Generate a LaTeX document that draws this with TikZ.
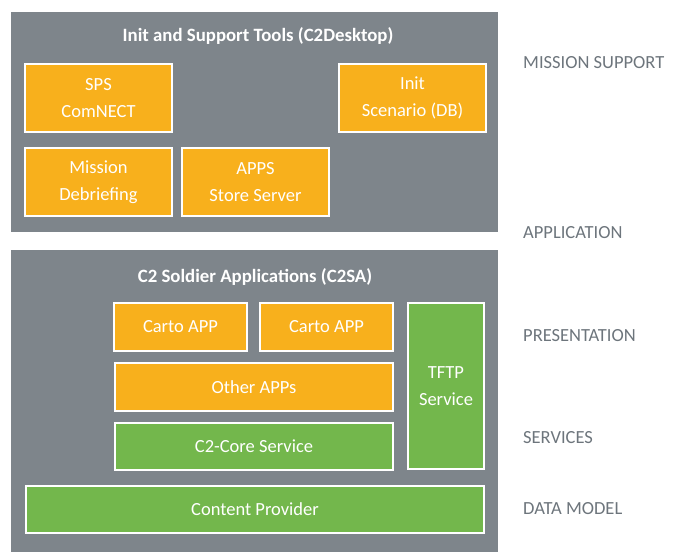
\documentclass[tikz,border=0pt]{standalone}
\usepackage{fontspec}
\setmainfont{Carlito}
\usetikzlibrary{positioning}
\definecolor{panelgray}{HTML}{7E858B}
\definecolor{apporange}{HTML}{F8B01C}
\definecolor{svcgreen}{HTML}{73B74C}
\definecolor{layergray}{HTML}{6D757C}
\begin{document}
\begin{tikzpicture}[
                x=1pt, y=-1pt,
                panel/.style={fill=panelgray, draw=none},
                title/.style={font=\fontsize{18.8}{22}\selectfont\bfseries, text=white},
                box/.style={draw=white, line width=2pt, inner sep=0pt, align=center, text=white, font=\fontsize{18.5}{27}\selectfont},
                appbox/.style={box, fill=apporange},
                svcbox/.style={box, fill=svcgreen},
                layer/.style={anchor=west, inner sep=0pt, text=layergray, font=\fontsize{18.5}{22}\selectfont}
            ]
                \useasboundingbox (0,0) rectangle (686,552);
                % panels
                \fill[panel] (11,12) rectangle (498,232);
                \fill[panel] (11,250) rectangle (498,552);
                \node[title] (desktop) at (258,36) {Init and Support Tools (C2Desktop)};
                \node[title] (c2sa) at (255,277) {C2 Soldier Applications (C2SA)};

                \node[appbox, minimum width=147pt, minimum height=68pt] (sps) at (98.5,98) {SPS\\ComNECT};
                \node[appbox, minimum width=147pt, minimum height=68pt] (init) at (412.5,98) {Init\\Scenario (DB)};
                \node[appbox, minimum width=147pt, minimum height=68pt] (mission) at (98.5,182) {Mission\\Debriefing};
                \node[appbox, minimum width=147pt, minimum height=68pt] (apps) at (255.5,182) {APPS\\Store Server};

                \node[appbox, minimum width=133pt, minimum height=48pt] (carto1) at (180.5,327) {Carto APP};
                \node[appbox, minimum width=133pt, minimum height=48pt] (carto2) at (326.5,327) {Carto APP};
                \node[appbox, minimum width=278pt, minimum height=48pt] (other) at (254,387) {Other APPs};
                \node[svcbox, minimum width=278pt, minimum height=47pt] (core) at (254,446.5) {C2-Core Service};
                \node[svcbox, minimum width=76pt, minimum height=166pt] (tftp) at (446,386) {TFTP\\Service};
                \node[svcbox, minimum width=458pt, minimum height=47pt] (content) at (255,509.5) {Content Provider};

                % layers
                \node[layer] (support) at (523,63) {MISSION SUPPORT};
                \node[layer] (application) at (523,233) {APPLICATION};
                \node[layer] (presentation) at (523,336) {PRESENTATION};
                \node[layer] (services) at (523,438) {SERVICES};
                \node[layer] (datamodel) at (523,509) {DATA MODEL};
            \end{tikzpicture}
\end{document}
